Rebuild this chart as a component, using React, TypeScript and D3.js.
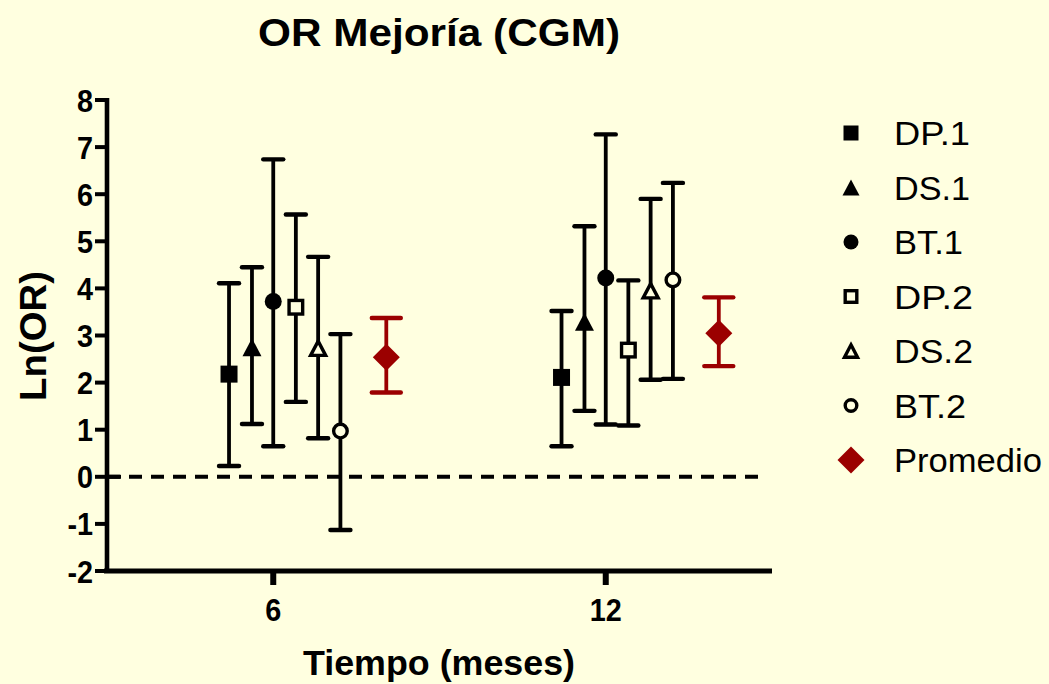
import React from "react";
import * as d3 from "d3";

// ---------- data ----------
const categories = ["6", "12"];
const seriesNames = ["DP.1", "DS.1", "BT.1", "DP.2", "DS.2", "BT.2", "Promedio"];
const estimates6 = [2.18, 2.75, 3.72, 3.6, 2.73, 0.97, 2.54];
const lower6 = [0.23, 1.12, 0.65, 1.59, 0.82, -1.13, 1.79];
const upper6 = [4.11, 4.45, 6.74, 5.57, 4.67, 3.03, 3.37];
const estimates12 = [2.11, 3.29, 4.22, 2.69, 3.95, 4.18, 3.05];
const lower12 = [0.65, 1.4, 1.11, 1.09, 2.06, 2.08, 2.35];
const upper12 = [3.52, 5.32, 7.27, 4.17, 5.9, 6.24, 3.81];
const yTicks = [-2, -1, 0, 1, 2, 3, 4, 5, 6, 7, 8];

// ---------- layout / style ----------
const W = 1049;
const H = 684;
const BG = "#FFFFE0";
const RED = "#9B0000";
const FONT = "'Liberation Sans', Arial, sans-serif";
const markerKinds = ["sq", "tri", "circ", "sq", "tri", "circ", "dia"];
const markerOpen = [false, false, false, true, true, true, false];
const dodge = [-0.133, -0.064, 0, 0.068, 0.135, 0.202, 0.34];

const x = d3.scaleLinear().domain([0.5, 2.5]).range([107, 772]);
const y = d3.scaleLinear().domain([-2, 8]).range([571, 100]);

const groups = [
  { cat: categories[0], pos: 1, est: estimates6, lo: lower6, hi: upper6 },
  { cat: categories[1], pos: 2, est: estimates12, lo: lower12, hi: upper12 },
];

function Marker({ kind, open, cx, cy, size, color }: any) {
  const fill = open ? BG : color;
  const sw = open ? 3.4 : 0;
  if (kind === "sq") {
    const s = open ? size - 3.4 : size;
    return <rect x={cx - s / 2} y={cy - s / 2} width={s} height={s} fill={fill} stroke={color} strokeWidth={sw} />;
  }
  if (kind === "circ") {
    const r = open ? (size - 3.4) / 2 : size / 2;
    return <circle cx={cx} cy={cy} r={r} fill={fill} stroke={color} strokeWidth={sw} />;
  }
  if (kind === "tri") {
    const s = open ? size - 4 : size;
    const h = s * 0.95;
    const p = `M${cx},${cy - h / 2}L${cx + s / 2},${cy + h / 2}L${cx - s / 2},${cy + h / 2}Z`;
    return <path d={p} fill={fill} stroke={color} strokeWidth={sw} strokeLinejoin="miter" />;
  }
  const s = size / 2;
  const p = `M${cx},${cy - s}L${cx + s},${cy}L${cx},${cy + s}L${cx - s},${cy}Z`;
  return <path d={p} fill={color} />;
}

function TickText({ x0, y0, anchor, children }: any) {
  return (
    <g transform={`translate(${x0},${y0}) scale(0.9,1)`}>
      <text x={0} y={0} textAnchor={anchor} fontSize={32} fontWeight="bold" fontFamily={FONT}>
        {children}
      </text>
    </g>
  );
}

export default function App() {
  const axisW = 4.6;
  return (
    <svg width={W} height={H} style={{ position: "absolute", left: 0, top: 0, background: BG }}>
      <rect x={0} y={0} width={W} height={H} fill={BG} />
      {/* title */}
      <text x={439} y={46} textAnchor="middle" fontSize={38} fontWeight="bold" fontFamily={FONT} textLength={362} lengthAdjust="spacingAndGlyphs">
        OR Mejoría (CGM)
      </text>

      {/* zero dashed line */}
      <line x1={x(0.5)} x2={762} y1={y(0)} y2={y(0)} stroke="#000" strokeWidth={4} strokeDasharray="13 9" />

      {/* y axis */}
      <line x1={x(0.5)} x2={x(0.5)} y1={y(8) - 2} y2={y(-2) + 2} stroke="#000" strokeWidth={axisW} />
      {yTicks.map((t) => (
        <g key={t}>
          <line x1={95} x2={x(0.5)} y1={y(t)} y2={y(t)} stroke="#000" strokeWidth={4} />
          <TickText x0={93} y0={y(t) + 11.5} anchor="end">
            {String(t)}
          </TickText>
        </g>
      ))}
      <line x1={x(0.5)} x2={x(0.5) + 14} y1={y(0)} y2={y(0)} stroke="#000" strokeWidth={4} />

      {/* x axis */}
      <line x1={x(0.5) - 3} x2={x(2.5)} y1={y(-2)} y2={y(-2)} stroke="#000" strokeWidth={axisW + 0.6} />
      {groups.map((g) => (
        <g key={g.cat}>
          <line x1={x(g.pos)} x2={x(g.pos)} y1={y(-2)} y2={y(-2) + 14} stroke="#000" strokeWidth={6} />
          <TickText x0={x(g.pos)} y0={621} anchor="middle">
            {g.cat}
          </TickText>
        </g>
      ))}

      {/* axis titles */}
      <text x={439} y={675} textAnchor="middle" fontSize={35} fontWeight="bold" fontFamily={FONT} textLength={272} lengthAdjust="spacingAndGlyphs">
        Tiempo (meses)
      </text>
      <text transform={`translate(46,336) rotate(-90)`} x={0} y={0} textAnchor="middle" fontSize={37} fontWeight="bold" fontFamily={FONT} textLength={130} lengthAdjust="spacingAndGlyphs">
        Ln(OR)
      </text>

      {/* error bars */}
      {groups.map((g) =>
        seriesNames.map((name, i) => {
          const cx = x(g.pos + dodge[i]);
          const col = i === 6 ? RED : "#000";
          const cw = i === 6 ? 29 : 20;
          return (
            <g key={g.cat + name + "e"}>
              <line x1={cx} x2={cx} y1={y(g.lo[i])} y2={y(g.hi[i])} stroke={col} strokeWidth={3.8} />
              <line x1={cx - cw / 2} x2={cx + cw / 2} y1={y(g.hi[i])} y2={y(g.hi[i])} stroke={col} strokeWidth={4.4} strokeLinecap="round" />
              <line x1={cx - cw / 2} x2={cx + cw / 2} y1={y(g.lo[i])} y2={y(g.lo[i])} stroke={col} strokeWidth={4.4} strokeLinecap="round" />
            </g>
          );
        })
      )}
      {/* markers */}
      {groups.map((g) =>
        seriesNames.map((name, i) => {
          const cx = x(g.pos + dodge[i]);
          const col = i === 6 ? RED : "#000";
          const size = i === 6 ? 27 : markerKinds[i] === "tri" ? 19 : 17;
          return <Marker key={g.cat + name + "m"} kind={markerKinds[i]} open={markerOpen[i]} cx={cx} cy={y(g.est[i])} size={size} color={col} />;
        })
      )}

      {/* legend */}
      {seriesNames.map((name, i) => {
        const cy = 133 + i * 54.5;
        const col = i === 6 ? RED : "#000";
        const size = i === 6 ? 27 : markerKinds[i] === "tri" ? 17 : 15;
        const widths = [76, 76, 69, 79, 79, 72, 148];
        return (
          <g key={name + "leg"}>
            <Marker kind={markerKinds[i]} open={markerOpen[i]} cx={851} cy={cy} size={size} color={col} />
            <text x={894} y={cy + 12} fontSize={33} fontFamily={FONT} textLength={widths[i]} lengthAdjust="spacingAndGlyphs">
              {name}
            </text>
          </g>
        );
      })}
    </svg>
  );
}
